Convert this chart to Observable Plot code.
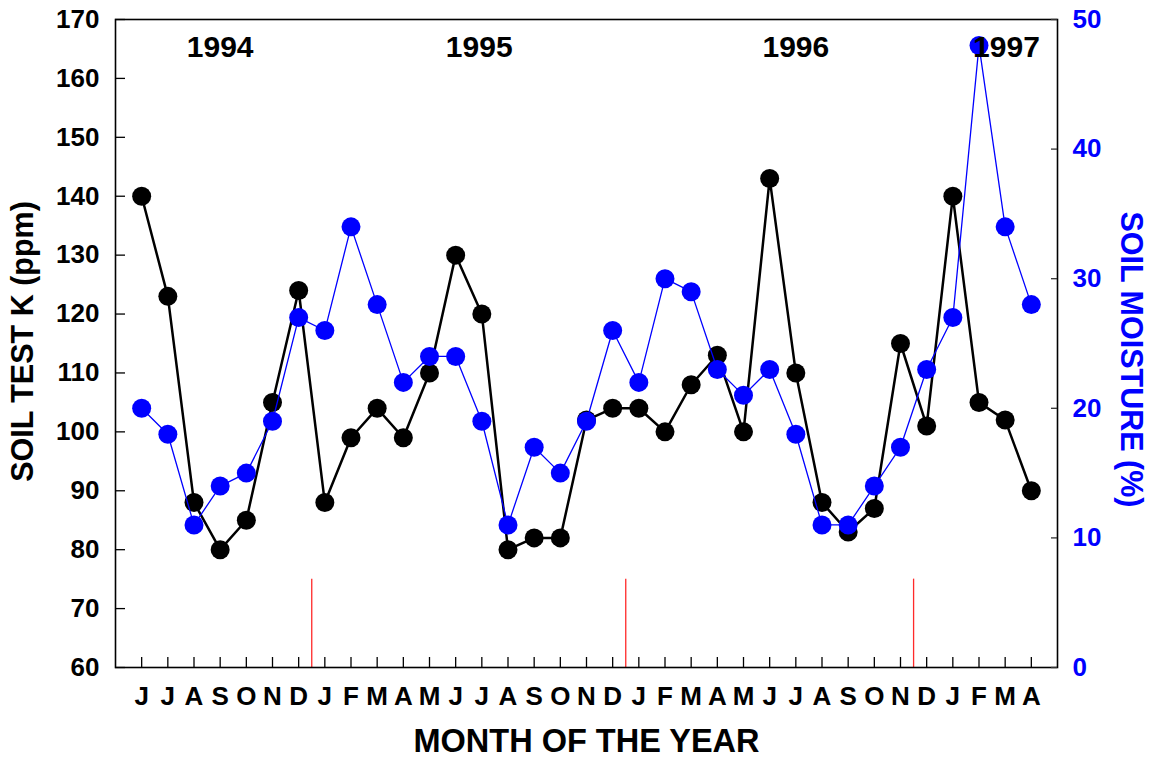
<!DOCTYPE html>
<html><head><meta charset="utf-8">
<script src="https://cdn.jsdelivr.net/npm/d3@7"></script>
<script src="https://cdn.jsdelivr.net/npm/@observablehq/plot@0.6"></script>
<style>body{margin:0;background:#fff}</style>
</head><body><div id="chart"></div>
<script>
const months = ["J","J","A","S","O","N","D","J","F","M","A","M","J","J","A","S","O","N","D","J","F","M","A","M","J","J","A","S","O","N","D","J","F","M","A"];
const soilK = [140,123,88,80,85,105,124,88,99,104,99,110,130,120,80,82,82,102,104,104,100,108,113,100,143,110,88,83,87,115,101,140,105,102,90];
const soilMoisture = [20,18,11,14,15,19,27,26,34,28,22,24,24,19,11,17,15,19,26,22,30,29,23,21,23,18,11,11,14,17,23,27,48,34,28];
const kTicks = [60,70,80,90,100,110,120,130,140,150,160,170];
const moistTicks = [0,10,20,30,40,50];
const years = ["1994","1995","1996","1997"];
const yearPos = [3, 12.9, 25, 33.05];
const yearLevel = 165.3;
const boundaries = [6.5, 18.5, 29.5];
const boundaryTop = 75;

const kDomain = [60, 170];
const moistDomain = [0, 50];
const toLeft = v => kDomain[0] + (v - moistDomain[0]) * (kDomain[1] - kDomain[0]) / (moistDomain[1] - moistDomain[0]);
const fromLeft = v => moistDomain[0] + (v - kDomain[0]) * (moistDomain[1] - moistDomain[0]) / (kDomain[1] - kDomain[0]);

const idx = d3.range(months.length);
const font = "'Liberation Sans', Arial, sans-serif";

const chart = Plot.plot({
  width: 1153,
  height: 759,
  marginLeft: 115,
  marginRight: 96,
  marginTop: 19,
  marginBottom: 92,
  style: {fontFamily: font, fontWeight: "bold", background: "white", color: "black"},
  x: {type: "linear", domain: [-1, months.length]},
  y: {domain: kDomain},
  marks: [
    // series
    Plot.line(idx, {x: i => i, y: i => soilK[i], stroke: "black", strokeWidth: 2.5}),
    Plot.dot(idx, {x: i => i, y: i => soilK[i], r: 9.5, fill: "black", stroke: "none"}),
    Plot.line(idx, {x: i => i, y: i => toLeft(soilMoisture[i]), stroke: "#0000ff", strokeWidth: 1.3}),
    Plot.dot(idx, {x: i => i, y: i => toLeft(soilMoisture[i]), r: 9.5, fill: "#0000ff", stroke: "none"}),
    // year boundaries
    Plot.ruleX(boundaries, {x: d => d, y1: kDomain[0], y2: boundaryTop, stroke: "#ff2a2a", strokeWidth: 1.3}),
    // frame
    Plot.frame({stroke: "black", strokeWidth: 1.6}),
    // inward tick marks
    Plot.ruleY(kTicks, {y: d => d, insetRight: 932, stroke: "black", strokeWidth: 1.3}),
    Plot.ruleY(moistTicks, {y: toLeft, insetLeft: 936, stroke: "#333", strokeWidth: 1.3}),
    Plot.ruleX(idx, {x: i => i, insetTop: 638, stroke: "black", strokeWidth: 1.3}),
    // axes labels
    Plot.axisY(kTicks, {anchor: "left", tickSize: 0, tickPadding: 16, fontSize: 26, fontWeight: "bold", label: null}),
    Plot.axisY(moistTicks.map(toLeft), {anchor: "right", tickSize: 0, tickPadding: 15, fontSize: 26, fontWeight: "bold", fill: "#0000ff", label: null, tickFormat: d => Math.round(fromLeft(d))}),
    Plot.axisX(idx, {anchor: "bottom", tickSize: 0, tickPadding: 19, fontSize: 26, fontWeight: "bold", label: null, tickFormat: i => months[i]}),
    // axis titles
    Plot.text(["SOIL TEST K (ppm)"], {frameAnchor: "left", textAnchor: "middle", lineAnchor: "middle", dx: -92, dy: -2, rotate: -90, fontSize: 30.5, fontWeight: "bold", fill: "black"}),
    Plot.text(["SOIL MOISTURE (%)"], {frameAnchor: "right", textAnchor: "middle", lineAnchor: "middle", dx: 73, dy: 16, rotate: 90, fontSize: 30.5, fontWeight: "bold", fill: "#0000ff"}),
    Plot.text(["MONTH OF THE YEAR"], {frameAnchor: "bottom", textAnchor: "middle", lineAnchor: "middle", dy: 74, fontSize: 32.5, fontWeight: "bold", fill: "black"}),
    // year labels
    Plot.text(years, {x: (d, i) => yearPos[i], y: () => yearLevel, text: d => d, fontSize: 30, fontWeight: "bold", fill: "black"})
  ]
});
document.getElementById("chart").appendChild(chart);
</script>
</body></html>
